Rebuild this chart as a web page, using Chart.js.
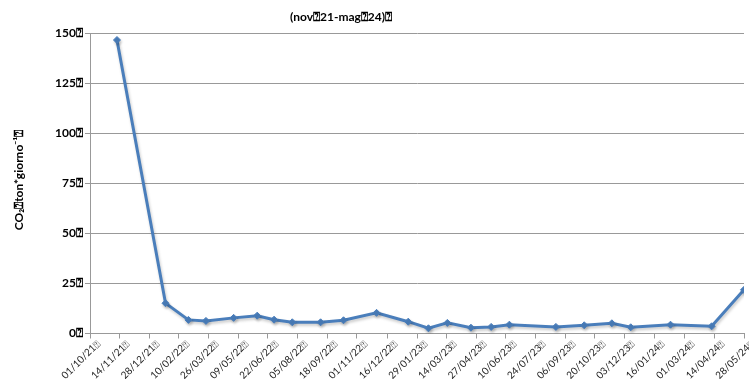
<!DOCTYPE html>
<html>
<head>
<meta charset="utf-8">
<script src="https://cdn.jsdelivr.net/npm/chart.js@4/dist/chart.umd.min.js"></script>
<style>
  html, body { margin: 0; padding: 0; background: #ffffff; }
  #wrap { width: 749px; height: 379px; position: relative; }
</style>
</head>
<body>
<div id="wrap"><canvas id="chart" width="749" height="379"></canvas></div>
<script>
// Axis tick dates (dd/mm/yy)
const tickDates = ['01/10/21','14/11/21','28/12/21','10/02/22','26/03/22','09/05/22','22/06/22','05/08/22',
  '18/09/22','01/11/22','16/12/22','29/01/23','14/03/23','27/04/23','10/06/23','24/07/23','06/09/23',
  '20/10/23','03/12/23','16/01/24','01/03/24','14/04/24','28/05/24'];

// Sampling dates (dd/mm/yy)
const sampleDates = ['10/11/21','21/01/22','24/02/22','22/03/22','02/05/22','06/06/22','01/07/22','28/07/22',
  '08/09/22','12/10/22','30/11/22','16/01/23','15/02/23','15/03/23','19/04/23','19/05/23','15/06/23',
  '23/08/23','04/10/23','14/11/23','12/12/23','09/02/24','10/04/24','28/05/24'];

// CO2 flux, ton per day
const co2Values = [146.5, 15.1, 6.8, 6.3, 7.8, 8.9, 6.9, 5.6,
  5.6, 6.6, 10.3, 5.9, 2.6, 5.3, 2.9, 3.3, 4.4,
  3.3, 4.1, 5.1, 3.1, 4.4, 3.6, 21.8];

const yTicks = [0, 25, 50, 75, 100, 125, 150];

const titleText = '(nov\u237021-mag\u237024)\u2370';
const yTitleText = 'CO\u2082\u2370ton*giorno\u207B\u00B9\u2370';
const BOX = '\u2370';

function dayNum(s) {
  const [d, m, y] = s.split('/').map(Number);
  return Date.UTC(2000 + y, m - 1, d) / 86400000;
}

const FONT = 'Lato, "Liberation Sans", "DejaVu Sans", sans-serif';

const points = sampleDates.map((d, i) => ({ x: dayNum(d), y: co2Values[i] }));

// Chart title, rotated y-axis title and the slanted date labels
const textPlugin = {
  id: 'texts',
  afterDraw(chart) {
    const ctx = chart.ctx;
    ctx.save();
    ctx.fillStyle = '#000';
    ctx.font = 'bold 12px ' + FONT;
    ctx.textAlign = 'center';
    ctx.textBaseline = 'middle';
    ctx.fillText(titleText, 341, 17);
    ctx.save();
    ctx.translate(19, 180);
    ctx.rotate(-Math.PI / 2);
    ctx.fillText(yTitleText, 0, 0);
    ctx.restore();

    const xs = chart.scales.x;
    const y0 = chart.chartArea.bottom + 5;
    ctx.font = '10px ' + FONT;
    ctx.fillStyle = '#222222';
    ctx.textAlign = 'right';
    ctx.textBaseline = 'top';
    xs.ticks.forEach((t, i) => {
      const px = xs.getPixelForValue(t.value);
      ctx.save();
      ctx.translate(px + 5, y0);
      ctx.rotate(-Math.PI / 4);
      ctx.fillText(tickDates[i] + BOX, 0, 0);
      ctx.restore();
    });
    ctx.restore();
  }
};

// Soft drop shadow under the series
const shadowPlugin = {
  id: 'seriesShadow',
  beforeDatasetDraw(chart) {
    const ctx = chart.ctx;
    ctx.save();
    ctx.shadowColor = 'rgba(0,0,0,0.22)';
    ctx.shadowBlur = 3;
    ctx.shadowOffsetX = 1;
    ctx.shadowOffsetY = 2;
  },
  afterDatasetDraw(chart) {
    chart.ctx.restore();
  }
};

new Chart(document.getElementById('chart'), {
  type: 'line',
  data: {
    datasets: [{
      data: points,
      borderColor: '#4a7ebb',
      backgroundColor: '#4a7ebb',
      borderWidth: 3,
      pointStyle: 'rectRot',
      pointRadius: 3.5,
      pointBorderWidth: 1,
      pointBorderColor: '#4a7ebb',
      tension: 0
    }]
  },
  options: {
    responsive: false,
    animation: false,
    events: [],
    layout: { padding: { top: 33, right: 3, left: 0, bottom: 0 } },
    plugins: { legend: { display: false }, tooltip: { enabled: false }, title: { display: false } },
    scales: {
      x: {
        type: 'linear',
        min: dayNum(tickDates[0]),
        max: dayNum(tickDates[tickDates.length - 1]),
        afterBuildTicks(scale) {
          scale.ticks = tickDates.map(s => ({ value: dayNum(s) }));
        },
        afterFit(scale) { scale.height = 45.5; },
        grid: { drawOnChartArea: false, drawTicks: true, tickLength: 5, color: '#999999' },
        border: { color: '#999999', width: 1 },
        ticks: { display: false, autoSkip: false }
      },
      y: {
        min: 0,
        max: 150,
        afterBuildTicks(scale) {
          scale.ticks = yTicks.map(v => ({ value: v }));
        },
        afterFit(scale) { scale.width = 90; },
        grid: { color: '#999999', tickLength: 5, lineWidth: 1 },
        border: { color: '#999999', width: 1 },
        ticks: {
          padding: 2,
          color: '#000000',
          font: { family: FONT, size: 12, weight: 'bold' },
          callback: v => v + BOX
        }
      }
    }
  },
  plugins: [shadowPlugin, textPlugin]
});
</script>
</body>
</html>
